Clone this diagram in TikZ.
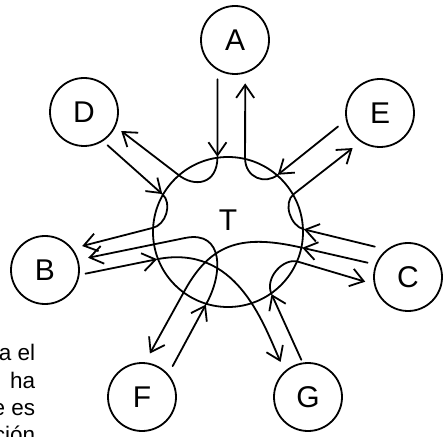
\documentclass[tikz,border=0pt]{standalone}
\usepackage{fontspec}
\setmainfont{Liberation Sans}
\usetikzlibrary{arrows.meta}
\begin{document}
\begin{tikzpicture}[x=1pt,y=1pt,line width=1.8pt,line cap=round,
    >={Straight Barb[length=13pt,width=18pt]},
    place/.style={circle,draw,minimum size=68pt,inner sep=0pt,font=\fontsize{30}{30}\selectfont},
    word/.style={anchor=base east,inner sep=0pt,font=\fontsize{22.5}{22.5}\selectfont}]
    \useasboundingbox (0,0) rectangle (443,436);
    \node[place,minimum size=150pt,label={[yshift=12pt,font=\fontsize{30}{30}\selectfont]center:T}] (T) at (228,204) {};
    \node[place] (A) at (235,396) {A};
    \node[place] (D) at (84,324) {D};
    \node[place] (E) at (380,323) {E};
    \node[place] (B) at (45,166) {B};
    \node[place] (C) at (408,159) {C};
    \node[place] (F) at (142,39) {F};
    \node[place] (G) at (308,39) {G};
    \coordinate (fb) at (185,198);
    \coordinate (cf) at (185,146);
    \draw[->,shorten <=9pt] (A.-120) -- (T.98);
    \draw[->,shorten >=7pt] (T.98) .. controls +(0,-28) and +(16,-13) .. (T.131) -- (D.-25);
    \draw[->,shorten <=6pt] (D.-57) -- (T.150);
    \draw[->,shorten >=10pt] (T.150) .. controls +(10.5,-9.3) and +(13.7,2.7) .. (T.177) -- (B.38);
    \draw[->,shorten <=6pt] (B.-8) -- (T.-159);
    \draw[->,shorten >=10pt] (T.-159) .. controls +(78.5,15.3) and +(-22.4,50.2) .. (G.132);
    \draw[->,shorten <=9pt] (F.41) -- (T.-107);
    \draw[->,shorten >=10pt] (T.-107) .. controls +(17.5,30.3) and +(39.2,8) .. (fb) -- (B.17);
    \draw[->,shorten <=8pt] (C.159) -- (T.-12);
    \draw[->,shorten >=10pt] (T.-12) .. controls +(-58.5,13.5) and +(26.7,48.1) .. (cf) -- (F.85);
    \draw[->,shorten <=3pt] (G.99) -- (T.-55);
    \draw[->,shorten >=9pt] (T.-55) .. controls +(-7.3,16.4) and +(-14.4,4.1) .. (T.-23) -- (C.192);
    \draw[->,shorten <=10pt] (E.192) -- (T.49);
    \draw[->,shorten >=10pt] (T.49) .. controls +(-12.3,-10.2) and +(0,-20) .. (T.77) -- (A.-73);
    \draw[->,shorten <=12pt] (C.128) -- (T.2);
    \draw[->,shorten >=10pt] (T.2) .. controls +(-13.6,3.4) and +(-10.9,-8.8) .. (T.30) -- (E.236);
    \node[word] (w1) at (36,76) {a el};
    \node[word] (w2) at (36,48) {ha};
    \node[word] (w3) at (36,21) {e es};
    \node[word] (w4) at (36,-6.5) {ción};
\end{tikzpicture}
\end{document}
